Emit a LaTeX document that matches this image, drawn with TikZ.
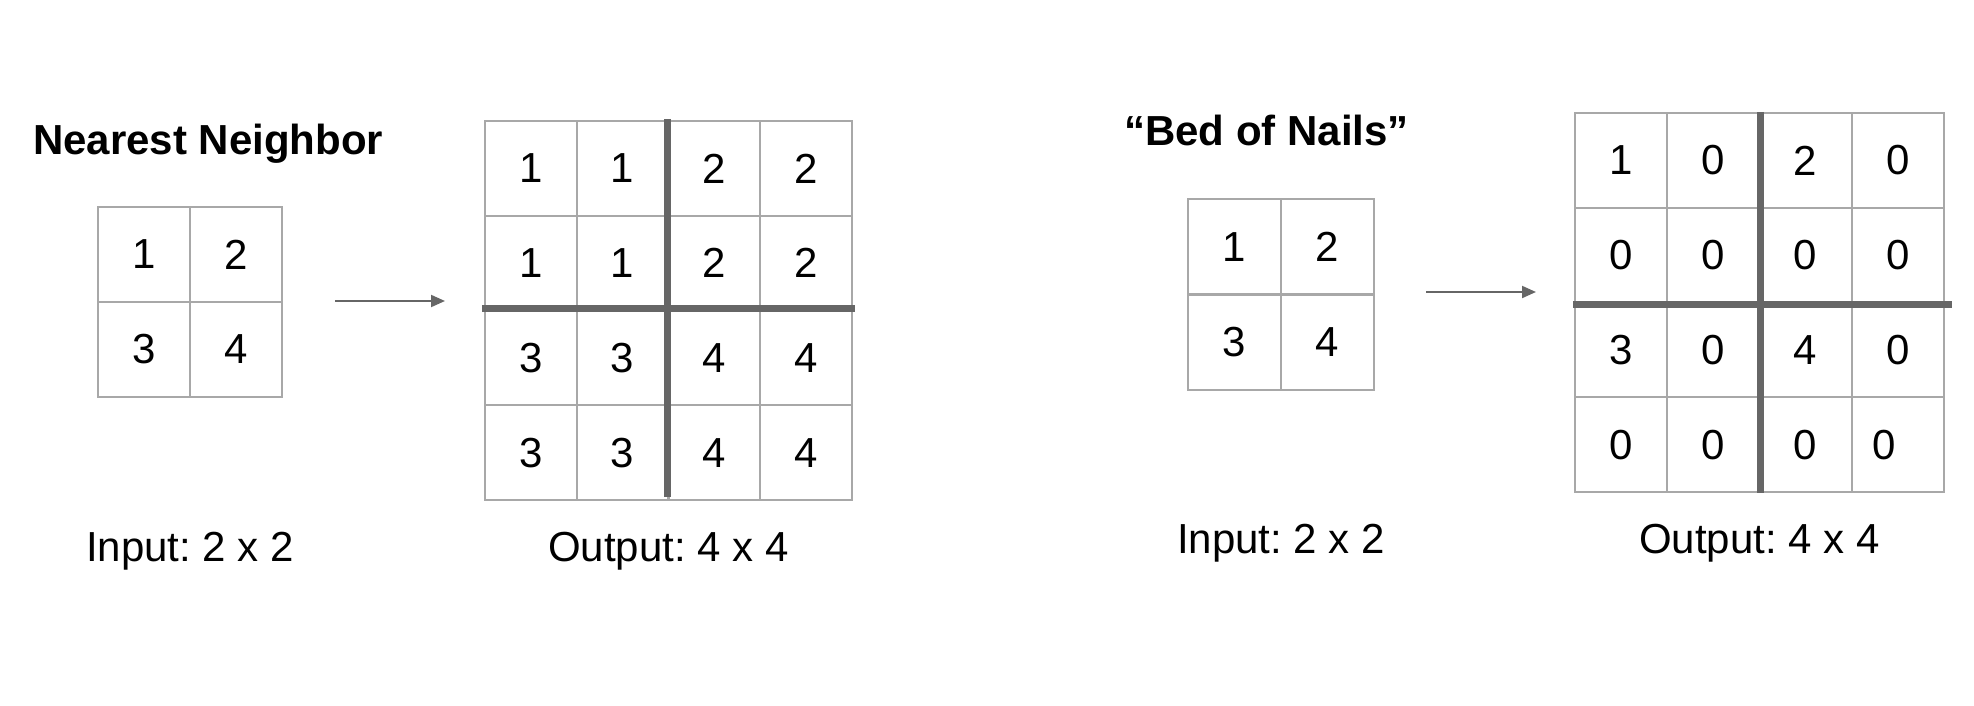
\documentclass[tikz,border=0pt]{standalone}
\usepackage{fontspec}
\setmainfont{Liberation Sans}
\usetikzlibrary{arrows.meta}
\definecolor{gridgray}{HTML}{A8A8A8}
\definecolor{divgray}{HTML}{666666}
\frenchspacing
\begin{document}
\begin{tikzpicture}[x=1pt,y=-1pt,
  cell/.style={draw=gridgray,line width=2.4pt,rectangle,inner sep=0pt,font=\fontsize{42}{48}\selectfont},
  divider/.style={draw=divgray,line width=6.5pt},
  conn/.style={draw=divgray,line width=2pt,-{Triangle[length=14pt,width=12pt]}},
  title/.style={font=\fontsize{42}{48}\selectfont\bfseries,inner sep=0pt},
  caption/.style={font=\fontsize{42}{48}\selectfont,inner sep=0pt}
]
\useasboundingbox (0,0) rectangle (1974,706);

% ---------- Nearest Neighbor ----------
\node[title,anchor=base west] (nntitle) at (33,155) {Nearest Neighbor};
\foreach \row [count=\r] in {{1,2},{3,4}} {
  \foreach \v [count=\c] in \row {
    \node[cell,minimum width=92pt,minimum height=95pt] (nni\r\c) at ({98+(\c-0.5)*92},{207+(\r-0.5)*95}) {\v};
  }
}
\foreach \row [count=\r] in {{1,1,2,2},{1,1,2,2},{3,3,4,4},{3,3,4,4}} {
  \foreach \v [count=\c] in \row {
    \node[cell,minimum width=91.75pt,minimum height=94.75pt] (nno\r\c) at ({485+(\c-0.5)*91.75},{121+(\r-0.5)*94.75}) {\v};
  }
}
\draw[divider] ([xshift=-2pt,yshift=1pt]nno12.north east) -- ([xshift=-2pt,yshift=4pt]nno42.south east);
\draw[divider] ([xshift=-2pt,yshift=3pt]nno21.south west) -- ([xshift=2pt,yshift=3pt]nno24.south east);
\coordinate (nnas) at (335,301);
\coordinate (nnae) at (445,301);
\draw[conn] (nnas) -- (nnae);
\node[caption,anchor=base] (nnin) at (190,561) {Input: 2 x 2};
\node[caption,anchor=base] (nnout) at (668.5,561) {Output: 4 x 4};

% ---------- Bed of Nails ----------
\node[title,anchor=base west] (bntitle) at (1124,146) {“Bed of Nails”};
\foreach \row [count=\r] in {{1,2},{3,4}} {
  \foreach \v [count=\c] in \row {
    \node[cell,minimum width=93pt,minimum height=95.5pt] (bni\r\c) at ({1188+(\c-0.5)*93},{199+(\r-0.5)*95.5}) {\v};
  }
}
\foreach \row [count=\r] in {{1,0,2,0},{0,0,0,0},{3,0,4,0},{0,0,0,\rlap{\hspace*{-14pt}0}\phantom{0}}} {
  \foreach \v [count=\c] in \row {
    \node[cell,minimum width=92.25pt,minimum height=94.75pt] (bno\r\c) at ({1575+(\c-0.5)*92.25},{113+(\r-0.5)*94.75}) {\v};
  }
}
\draw[divider] (bno12.north east) -- (bno42.south east);
\draw[divider] ([xshift=-1pt,yshift=-1pt]bno21.south west) -- ([xshift=7pt,yshift=-1pt]bno24.south east);
\coordinate (bnas) at (1426,292);
\coordinate (bnae) at (1536,292);
\draw[conn] (bnas) -- (bnae);
\node[caption,anchor=base] (bnin) at (1281,553) {Input: 2 x 2};
\node[caption,anchor=base] (bnout) at (1759.5,553) {Output: 4 x 4};
\end{tikzpicture}
\end{document}
